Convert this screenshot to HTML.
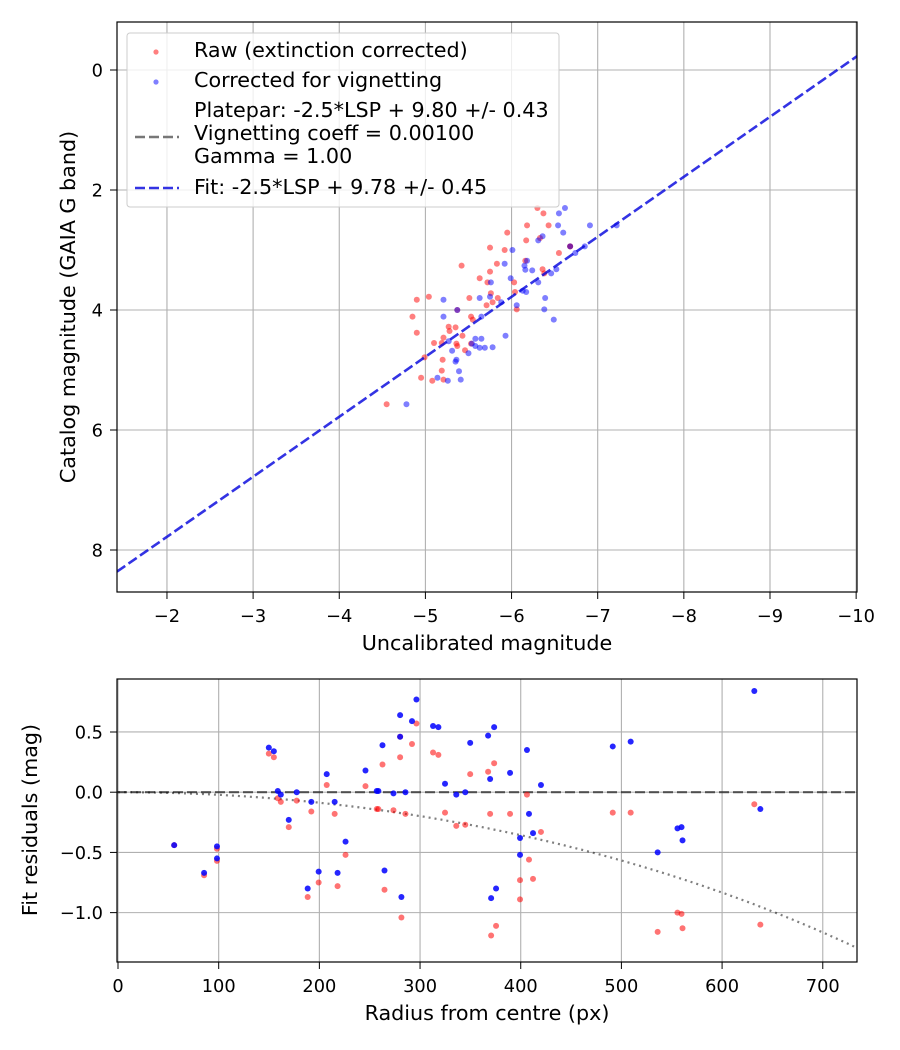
<!DOCTYPE html>
<html><head><meta charset="utf-8">
<style>
body{margin:0;background:#fff;}
svg{display:block;font-family:"DejaVu Sans","Liberation Sans",sans-serif;}
</style></head>
<body>
<svg id="fig" width="900" height="1050" viewBox="0 0 900 1050" xmlns="http://www.w3.org/2000/svg">
<rect width="900" height="1050" fill="#fff"/>
<g id="topChart"></g>
<g id="botChart"></g>
</svg>
<script>
// ---- top chart data (pixel-read estimates, in data units) ----
const topXTicks = [-2,-3,-4,-5,-6,-7,-8,-9,-10];
const topYTicks = [0,2,4,6,8];
const fitOffset = 9.78;
const rawX = [-6.30,-6.37,-6.18,-6.43,-5.95,-6.17,-5.75,-5.92,-6.55,-6.68,-6.16,-5.83,-5.42,-5.75,-6.36,-6.38,-5.63,-5.72,-6.03,-5.76,-6.04,-5.51,-5.04,-4.90,-5.84,-5.78,-5.71,-6.06,-4.85,-5.53,-5.55,-5.27,-5.35,-4.90,-5.21,-5.43,-5.10,-5.19,-5.37,-5.53,-5.46,-4.99,-5.20,-4.95,-5.08,-5.19,-5.21,-4.55,-5.28,-5.36,-5.37,-6.33,-6.68];
const rawY = [2.30,2.39,2.59,2.59,2.71,2.84,2.96,3.00,3.05,2.94,3.18,3.23,3.26,3.36,3.32,3.39,3.47,3.54,3.54,3.72,3.70,3.80,3.78,3.83,3.80,3.87,3.92,3.99,4.11,4.11,4.16,4.28,4.29,4.38,4.46,4.43,4.55,4.55,4.60,4.56,4.67,4.79,4.83,5.13,5.18,5.01,5.16,5.57,4.35,4.56,4.00,2.80,2.94];
const corrX = [-6.62,-6.55,-6.54,-6.60,-6.91,-6.31,-6.36,-6.01,-6.85,-6.74,-5.92,-6.18,-6.15,-6.16,-6.24,-5.76,-5.99,-6.46,-6.31,-6.52,-6.17,-6.13,-5.21,-5.63,-5.75,-5.88,-6.39,-6.06,-6.38,-6.49,-5.21,-5.65,-5.37,-5.93,-5.27,-5.54,-5.58,-5.65,-5.31,-5.58,-5.63,-5.69,-5.78,-5.50,-5.36,-5.35,-5.39,-5.14,-5.26,-5.41,-4.78,-7.22,-6.68];
const corrY = [2.30,2.39,2.59,2.71,2.59,2.84,2.77,3.00,2.94,3.05,3.23,3.18,3.26,3.33,3.34,3.54,3.47,3.39,3.54,3.32,3.70,3.68,3.83,3.80,3.78,3.87,3.80,3.92,3.99,4.16,4.11,4.11,4.00,4.43,4.52,4.56,4.48,4.48,4.68,4.60,4.63,4.63,4.62,4.72,4.83,4.86,5.02,5.13,5.18,5.16,5.57,2.59,2.94];
const topLegend = ["Raw (extinction corrected)","Corrected for vignetting","Platepar: -2.5*LSP + 9.80 +/- 0.43","Vignetting coeff = 0.00100","Gamma = 1.00","Fit: -2.5*LSP + 9.78 +/- 0.45"];

// ---- bottom chart data ----
const botXTicks = [0,100,200,300,400,500,600,700];
const botYTicks = [0.5,0.0,-0.5,-1.0];
const vigCoeff = 0.001;
const radius = [55.8,85.5,98.3,98.3,149.8,154.8,158.7,161.7,169.6,177.5,192,188.4,199.3,207.3,215.2,218.1,226,245.8,257,258.6,262.7,264.7,273.6,280.2,280.2,281.5,285.5,292,296.4,312.9,318.2,324.8,336,344.9,349.8,367.6,369.6,373.6,370.6,375.5,389.4,399.3,399.3,406.2,408.2,412.2,420.1,491.4,509.2,536,555.7,559.7,560.7,632,638];
const resRaw = [-0.44,-0.69,-0.47,-0.57,0.32,0.29,-0.05,-0.08,-0.29,-0.07,-0.16,-0.87,-0.75,0.06,-0.18,-0.78,-0.52,0.05,-0.14,-0.14,0.23,-0.81,-0.15,0.29,0.46,-1.04,-0.18,0.40,0.57,0.33,0.31,-0.17,-0.28,-0.27,0.15,0.17,-0.18,0.24,-1.19,-1.11,-0.18,-0.89,-0.73,-0.02,-0.56,-0.72,-0.33,-0.17,-0.17,-1.16,-1.00,-1.01,-1.13,-0.10,-1.10];
const resCorr = [-0.44,-0.67,-0.45,-0.55,0.37,0.34,0.01,-0.02,-0.23,0.0,-0.08,-0.80,-0.66,0.15,-0.08,-0.67,-0.41,0.18,0.01,0.01,0.39,-0.65,-0.01,0.64,0.46,-0.87,0.0,0.59,0.77,0.55,0.54,0.07,-0.02,0.0,0.41,0.47,0.11,0.54,-0.88,-0.80,0.16,-0.38,-0.52,0.35,-0.18,-0.34,0.06,0.38,0.42,-0.50,-0.30,-0.29,-0.40,0.84,-0.14];

const NS="http://www.w3.org/2000/svg";
const TICKFS=17.8, LABFS=20.7;
function mk(parent,tag,attrs,text){const e=document.createElementNS(NS,tag);for(const k in attrs)e.setAttribute(k,attrs[k]);if(text!==undefined)e.textContent=text;parent.appendChild(e);return e;}
const fmtNeg = s => String(s).replace('-','\u2212');

// ===== TOP =====
const T={l:117,r:857,t:22,b:592,x0:-1.42,x1:-10.01,y0:-0.8,y1:8.7};
const tx=v=>T.l+(v-T.x0)/(T.x1-T.x0)*(T.r-T.l);
const ty=v=>T.t+(v-T.y0)/(T.y1-T.y0)*(T.b-T.t);
const topG=document.getElementById('topChart');
const tclip=mk(topG,'clipPath',{id:'tc'});mk(tclip,'rect',{x:T.l,y:T.t,width:T.r-T.l,height:T.b-T.t});
topXTicks.forEach(v=>{
  const g=mk(topG,'line',{x1:tx(v),x2:tx(v),y1:T.t,y2:T.b,stroke:'#b0b0b0','stroke-width':1.1});
  
  mk(topG,'line',{x1:tx(v),x2:tx(v),y1:T.b,y2:T.b+7,stroke:'#000','stroke-width':1});
  const t=mk(topG,'text',{x:tx(v),y:T.b+30,'text-anchor':'middle','font-size':TICKFS},fmtNeg(v));
  
});
topYTicks.forEach(v=>{
  const g=mk(topG,'line',{x1:T.l,x2:T.r,y1:ty(v),y2:ty(v),stroke:'#b0b0b0','stroke-width':1.1});
  
  mk(topG,'line',{x1:T.l-7,x2:T.l,y1:ty(v),y2:ty(v),stroke:'#000','stroke-width':1});
  const t=mk(topG,'text',{x:T.l-14,y:ty(v)+6.5,'text-anchor':'end','font-size':TICKFS},fmtNeg(v));
  
});
const tpts=mk(topG,'g',{'clip-path':'url(#tc)'});
rawX.forEach((x,i)=>{
  const c=mk(tpts,'circle',{cx:tx(x),cy:ty(rawY[i]),r:3,fill:'rgba(255,0,0,0.5)'});
  
});
corrX.forEach((x,i)=>{
  const c=mk(tpts,'circle',{cx:tx(x),cy:ty(corrY[i]),r:3,fill:'rgba(0,0,255,0.5)'});
  
});
const fl=mk(tpts,'line',{x1:tx(T.x0),y1:ty(T.x0+fitOffset),x2:tx(T.x1),y2:ty(T.x1+fitOffset),stroke:'rgba(0,0,220,0.8)','stroke-width':2.6,'stroke-dasharray':'10,4'});

const tf=mk(topG,'rect',{x:T.l,y:T.t,width:T.r-T.l,height:T.b-T.t,fill:'none',stroke:'#000','stroke-width':1.2});

// legend
const lg=mk(topG,'g',{});

mk(lg,'rect',{x:127,y:33,width:432,height:174,rx:3,fill:'rgba(255,255,255,0.8)',stroke:'#ccc','stroke-width':1});
mk(lg,'circle',{cx:156,cy:52,r:2.6,fill:'rgba(255,0,0,0.5)'});
mk(lg,'circle',{cx:156,cy:82,r:2.6,fill:'rgba(0,0,255,0.5)'});
mk(lg,'line',{x1:135,x2:179,y1:137,y2:137,stroke:'#777','stroke-width':2.4,'stroke-dasharray':'10,4'});
mk(lg,'line',{x1:135,x2:179,y1:188,y2:188,stroke:'rgba(0,0,220,0.8)','stroke-width':2.4,'stroke-dasharray':'10,4'});
[[57,0],[87,1],[117,2],[140,3],[163,4],[194,5]].forEach(([y,i])=>{
  const t=mk(lg,'text',{x:194,y:y,'font-size':LABFS},topLegend[i]);
  
});
let a=mk(topG,'text',{x:487,y:650,'text-anchor':'middle','font-size':LABFS},'Uncalibrated magnitude');

a=mk(topG,'text',{x:0,y:0,'text-anchor':'middle','font-size':LABFS,transform:'translate(75,307) rotate(-90)'},'Catalog magnitude (GAIA G band)');


// ===== BOTTOM =====
const B={l:117,r:857,t:679,b:962,x0:-1,x1:734,y0:0.94,y1:-1.41};
const bx=v=>B.l+(v-B.x0)/(B.x1-B.x0)*(B.r-B.l);
const by=v=>B.t+(v-B.y0)/(B.y1-B.y0)*(B.b-B.t);
const botG=document.getElementById('botChart');
const bclip=mk(botG,'clipPath',{id:'bc'});mk(bclip,'rect',{x:B.l,y:B.t,width:B.r-B.l,height:B.b-B.t});
botXTicks.forEach(v=>{
  const g=mk(botG,'line',{x1:bx(v),x2:bx(v),y1:B.t,y2:B.b,stroke:'#b0b0b0','stroke-width':1.1});
  
  mk(botG,'line',{x1:bx(v),x2:bx(v),y1:B.b,y2:B.b+7,stroke:'#000','stroke-width':1});
  const t=mk(botG,'text',{x:bx(v),y:B.b+30,'text-anchor':'middle','font-size':TICKFS},String(v));
  
});
botYTicks.forEach(v=>{
  const g=mk(botG,'line',{x1:B.l,x2:B.r,y1:by(v),y2:by(v),stroke:'#b0b0b0','stroke-width':1.1});
  
  mk(botG,'line',{x1:B.l-7,x2:B.l,y1:by(v),y2:by(v),stroke:'#000','stroke-width':1});
  const t=mk(botG,'text',{x:B.l-14,y:by(v)+6.5,'text-anchor':'end','font-size':TICKFS},fmtNeg(v.toFixed(1)));
  
});
const bp=mk(botG,'g',{'clip-path':'url(#bc)'});
const zl=mk(bp,'line',{x1:B.l,x2:B.r,y1:by(0),y2:by(0),stroke:'rgba(0,0,0,0.6)','stroke-width':2.2,'stroke-dasharray':'10,4'});

let d='';
for(let r=0;r<=B.x1;r+=4){const v=10*Math.log10(Math.cos(r*vigCoeff));d+=(r?'L':'M')+bx(r).toFixed(1)+','+by(v).toFixed(1);}
const vc=mk(bp,'path',{d:d,fill:'none',stroke:'rgba(0,0,0,0.5)','stroke-width':2.2,'stroke-dasharray':'2,4'});

radius.forEach((r,i)=>{
  const c=mk(bp,'circle',{cx:bx(r),cy:by(resRaw[i]),r:3,fill:'rgba(255,0,0,0.55)'});
  
});
radius.forEach((r,i)=>{
  const c=mk(bp,'circle',{cx:bx(r),cy:by(resCorr[i]),r:3,fill:'rgba(0,0,255,0.85)'});
  
});
const bf=mk(botG,'rect',{x:B.l,y:B.t,width:B.r-B.l,height:B.b-B.t,fill:'none',stroke:'#000','stroke-width':1.2});

a=mk(botG,'text',{x:487,y:1020,'text-anchor':'middle','font-size':LABFS},'Radius from centre (px)');

a=mk(botG,'text',{x:0,y:0,'text-anchor':'middle','font-size':LABFS,transform:'translate(37,820) rotate(-90)'},'Fit residuals (mag)');

</script>
</body></html>
